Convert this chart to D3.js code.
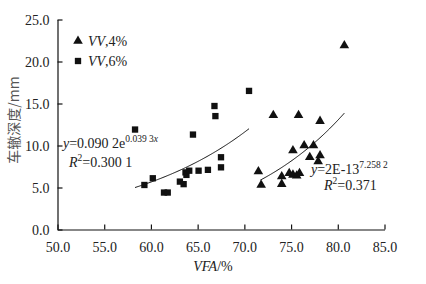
<!DOCTYPE html>
<html>
<head>
<meta charset="utf-8">
<script src="https://cdn.jsdelivr.net/npm/d3@7"></script>
<style>
  body { margin: 0; background: #fff; }
  svg text { font-family: 'Times New Roman', 'Liberation Serif', 'DejaVu Serif', serif; fill: #222; }
</style>
</head>
<body>
<div id="chart"></div>
<script>
// VV,4% (triangles): [VFA, rut depth]
const vv4 = [
  [80.7, 21.9], [73.1, 13.6], [75.8, 13.6], [78.1, 12.9],
  [75.2, 9.4], [76.4, 10.0], [77.4, 10.0], [77.0, 8.6],
  [78.1, 8.8], [77.9, 8.1], [71.5, 6.9], [71.8, 5.3],
  [74.0, 6.3], [74.0, 5.4], [74.8, 6.7], [75.2, 6.5],
  [75.6, 6.4], [75.9, 6.7]
];
// VV,6% (squares)
const vv6 = [
  [58.3, 11.9], [59.3, 5.3], [60.2, 6.1], [61.4, 4.4], [61.8, 4.4],
  [63.1, 5.7], [63.5, 5.4], [63.7, 6.8], [63.8, 6.5], [64.1, 7.0],
  [64.5, 11.3], [65.1, 7.0], [66.1, 7.1], [66.8, 14.7], [66.9, 13.5],
  [67.5, 8.6], [67.5, 7.4], [70.5, 16.5]
];
const xTicks = [50, 55, 60, 65, 70, 75, 80, 85];
const yTicks = [0, 5, 10, 15, 20, 25];
// trend curves as drawn: exponential for VV,6%, power for VV,4%
const fit6 = { a: 0.076, k: 0.0718, from: 58.3, to: 70.5 };
const fit4 = { a: 2e-13, b: 7.2582, from: 71.7, to: 80.7 };

const width = 426, height = 284;
const serif = "'Times New Roman', 'Liberation Serif', serif";
const svg = d3.select('#chart').append('svg')
  .attr('width', width).attr('height', height)
  .attr('font-family', serif);

const x = d3.scaleLinear().domain([50, 85]).range([57.5, 384.5]);
const y = d3.scaleLinear().domain([0, 25]).range([229.5, 19.5]);

// axes (ticks inward)
const xAxis = svg.append('g')
  .attr('transform', `translate(0,${y(0)})`)
  .call(d3.axisBottom(x).tickValues(xTicks).tickSizeInner(-5).tickSizeOuter(0)
    .tickFormat(d3.format('.1f')));
const yAxis = svg.append('g')
  .attr('transform', `translate(${x(50)},0)`)
  .call(d3.axisLeft(y).tickValues(yTicks).tickSizeInner(-5).tickSizeOuter(0)
    .tickFormat(d3.format('.1f')));
[xAxis, yAxis].forEach(g => {
  g.attr('font-family', serif).attr('font-size', 14);
  g.select('.domain').attr('stroke', '#111').attr('stroke-width', 1.2);
  g.selectAll('.tick line').attr('stroke', '#111').attr('stroke-width', 1.2);
  g.selectAll('.tick text').attr('fill', '#222');
});
xAxis.selectAll('.tick text').attr('dy', null).attr('y', 22);
yAxis.selectAll('.tick text').attr('x', -8).attr('dy', '0.35em');

// trend lines
const line = d3.line().x(d => x(d[0])).y(d => y(d[1]));
const curve6 = d3.range(fit6.from, fit6.to + 0.001, 0.1).map(v => [v, fit6.a * Math.exp(fit6.k * v)]);
const curve4 = d3.range(fit4.from, fit4.to + 0.001, 0.1).map(v => [v, fit4.a * Math.pow(v, fit4.b)]);
[curve6, curve4].forEach(c => {
  svg.append('path').datum(c).attr('d', line)
    .attr('fill', 'none').attr('stroke', '#111').attr('stroke-width', 1);
});

// markers
const sq = d3.symbol().type(d3.symbolSquare).size(40);
const tri = d3.symbol().type(d3.symbolTriangle).size(40);
svg.selectAll('.sq').data(vv6).enter().append('path')
  .attr('class', 'sq').attr('d', sq).attr('fill', '#111')
  .attr('transform', d => `translate(${x(d[0])},${y(d[1])})`);
svg.selectAll('.tri').data(vv4).enter().append('path')
  .attr('class', 'tri').attr('d', tri).attr('fill', '#111')
  .attr('transform', d => `translate(${x(d[0])},${y(d[1])})`);

// legend
svg.append('path').attr('d', tri).attr('fill', '#111').attr('transform', 'translate(78,41)');
svg.append('path').attr('d', sq).attr('fill', '#111').attr('transform', 'translate(78,61)');
const leg1 = svg.append('text').attr('x', 88).attr('y', 46).style('font-size', '14px');
leg1.append('tspan').style('font-style', 'italic').text('VV');
leg1.append('tspan').text(',4%');
const leg2 = svg.append('text').attr('x', 88).attr('y', 66).style('font-size', '14px');
leg2.append('tspan').style('font-style', 'italic').text('VV');
leg2.append('tspan').text(',6%');

// equations
const eq1 = svg.append('text').attr('x', 63).attr('y', 148).style('font-size', '14px');
eq1.append('tspan').style('font-style', 'italic').text('y');
eq1.append('tspan').text('=0.090 2e');
eq1.append('tspan').attr('dy', -6).style('font-size', '9.5px').text('0.039 3');
eq1.append('tspan').style('font-size', '9.5px').style('font-style', 'italic').text('x');
const r1 = svg.append('text').attr('x', 69).attr('y', 167).style('font-size', '14px');
r1.append('tspan').style('font-style', 'italic').text('R');
r1.append('tspan').attr('dy', -6).style('font-size', '9.5px').text('2');
r1.append('tspan').attr('dy', 6).text('=0.300 1');

const eq2 = svg.append('text').attr('x', 311).attr('y', 174).style('font-size', '14px');
eq2.append('tspan').style('font-style', 'italic').text('y');
eq2.append('tspan').text('=2E-13');
eq2.append('tspan').attr('dy', -6).style('font-size', '9.5px').text('7.258 2');
const r2 = svg.append('text').attr('x', 324).attr('y', 190).style('font-size', '14px');
r2.append('tspan').style('font-style', 'italic').text('R');
r2.append('tspan').attr('dy', -6).style('font-size', '9.5px').text('2');
r2.append('tspan').attr('dy', 6).text('=0.371');

// axis titles
const xl = svg.append('text').attr('x', 213).attr('y', 271)
  .attr('text-anchor', 'middle').style('font-size', '14px');
xl.append('tspan').style('font-style', 'italic').text('VFA');
xl.append('tspan').text('/%');

svg.append('text')
  .attr('transform', 'translate(19,120) rotate(-90)')
  .attr('text-anchor', 'middle')
  .style('font-size', '14px')
  .style('font-family', "'Noto Sans CJK SC', serif")
  .style('fill', '#555')
  .text('车辙深度/mm');
</script>
</body>
</html>
